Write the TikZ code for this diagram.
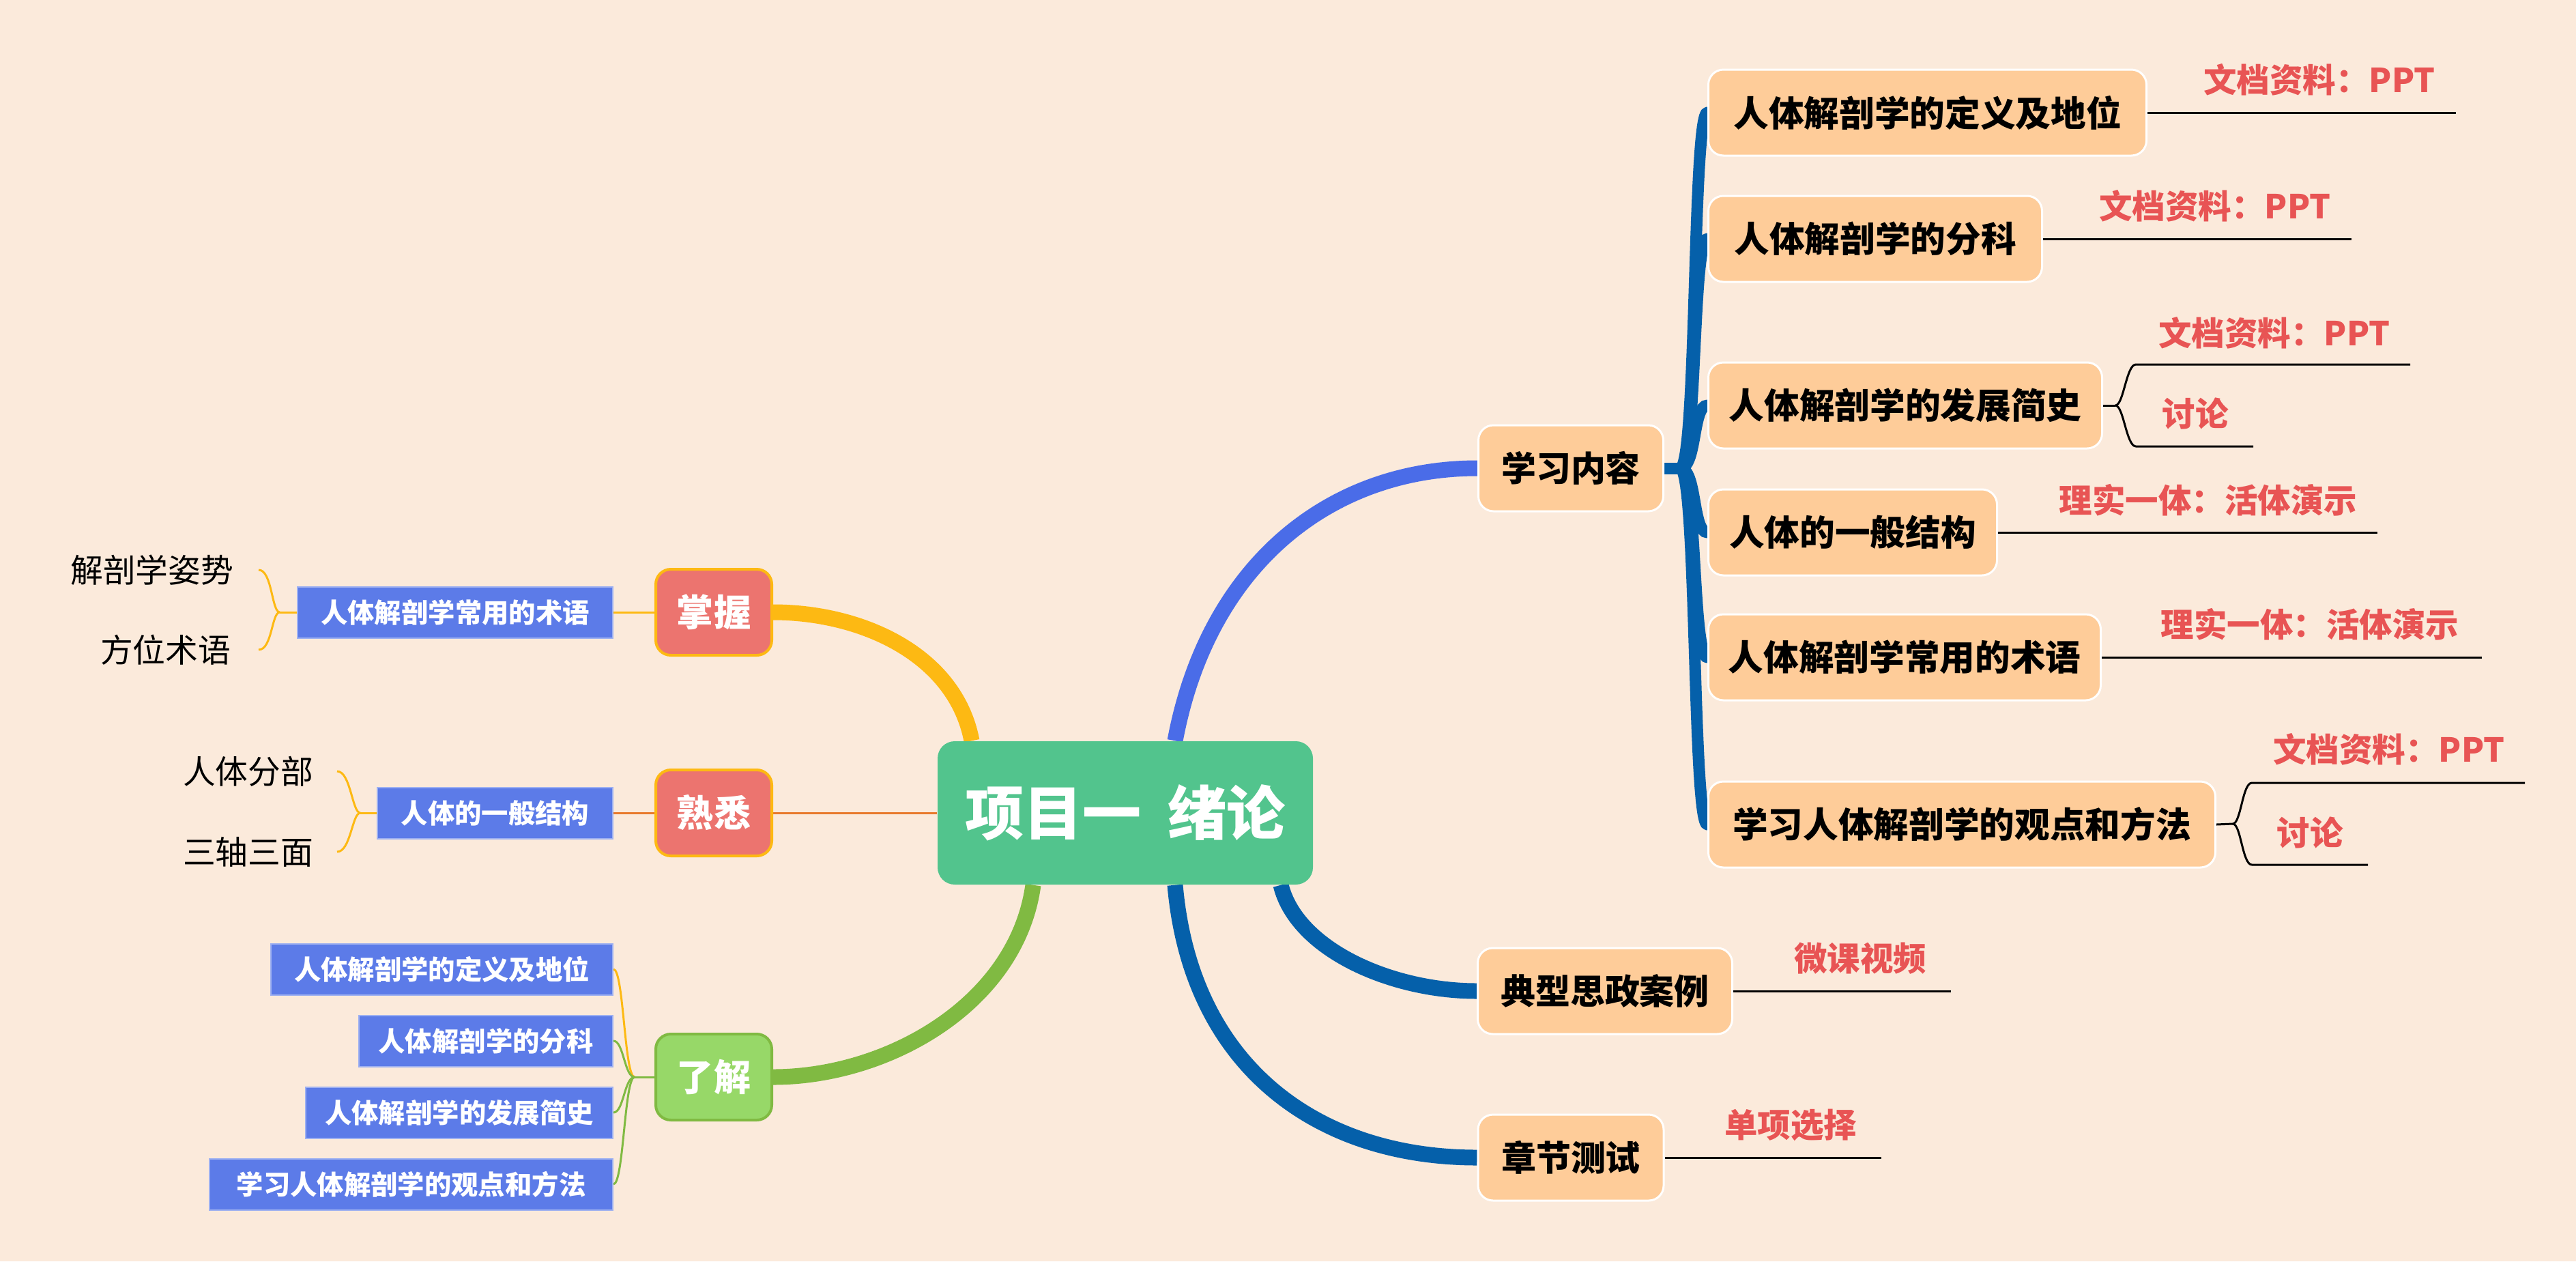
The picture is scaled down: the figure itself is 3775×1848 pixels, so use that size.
\documentclass[tikz,border=0pt]{standalone}
\usepackage{fontspec}
\setmainfont{Noto Sans CJK SC}
\usetikzlibrary{backgrounds}

\definecolor{bgpeach}{RGB}{251,234,219}
\definecolor{hubgreen}{RGB}{82,196,141}
\definecolor{topicpeach}{RGB}{254,204,153}
\definecolor{catred}{RGB}{236,116,111}
\definecolor{catgreen}{RGB}{151,216,104}
\definecolor{leafgreen}{RGB}{128,186,66}
\definecolor{mindyellow}{RGB}{253,185,19}
\definecolor{mindorange}{RGB}{232,121,43}
\definecolor{mindblue}{RGB}{74,108,232}
\definecolor{deepblue}{RGB}{5,96,170}
\definecolor{boxblue}{RGB}{92,123,232}
\definecolor{notered}{RGB}{232,84,84}

\begin{document}
\begin{tikzpicture}[x=0.1mm, y=-0.1mm]
	\tikzstyle{hub} = [rounded corners=2.5mm, fill=hubgreen, text=white, minimum width=55mm, minimum height=21mm, inner sep=0pt, font=\fontsize{24.5}{28}\selectfont\bfseries]
	\tikzstyle{topic} = [rounded corners=2.2mm, fill=topicpeach, draw=white, line width=0.3mm, minimum height=12.6mm, inner sep=0pt, font=\fontsize{14.5}{17}\selectfont\bfseries]
	\tikzstyle{subtopic} = [topic, anchor=west, font=\fontsize{14.7}{17}\selectfont\bfseries]
	\tikzstyle{grade} = [rounded corners=2.2mm, line width=0.4mm, text=white, minimum width=17mm, minimum height=12.6mm, inner sep=0pt, font=\fontsize{15.4}{18}\selectfont\bfseries]
	\tikzstyle{tag} = [fill=boxblue, draw=boxblue!60!white, line width=0.2mm, text=white, anchor=east, minimum height=7.5mm, inner sep=0pt, font=\fontsize{11.2}{14}\selectfont\bfseries]
	\tikzstyle{term} = [anchor=east, inner sep=0pt, font=\fontsize{13.6}{16}\selectfont]
	\tikzstyle{memo} = [text=notered, inner sep=0pt, font=\fontsize{13.8}{16}\selectfont\bfseries]
	\tikzstyle{trunk} = [line width=2.3mm]
	\tikzstyle{limb} = [deepblue, line width=1.7mm, line cap=round]
	\tikzstyle{twig} = [line width=0.3mm]
	\tikzstyle{uline} = [black, line width=0.3mm]

	\useasboundingbox (0,0) rectangle (3775,1848);

	% Define nodes
	\node[hub] (hub) at (1649,1191) {项目一\ \ 绪论};
	\node[topic, minimum width=27.1mm] (xxnr) at (2302,686) {学习内容};
	\node[topic, minimum width=37.3mm] (dxal) at (2352,1452) {典型思政案例};
	\node[topic, minimum width=27.2mm] (zjcs) at (2302,1696) {章节测试};

	\node[subtopic, minimum width=64.2mm] (n1) at (2502,165) {人体解剖学的定义及地位};
	\node[subtopic, minimum width=48.9mm] (n2) at (2502,350) {人体解剖学的分科};
	\node[subtopic, minimum width=57.7mm] (n3) at (2502,594) {人体解剖学的发展简史};
	\node[subtopic, minimum width=42.3mm] (n4) at (2502,780) {人体的一般结构};
	\node[subtopic, minimum width=57.5mm] (n5) at (2502,963) {人体解剖学常用的术语};
	\node[subtopic, minimum width=74.3mm] (n6) at (2502,1208) {学习人体解剖学的观点和方法};

	\node[memo] (r1) at (3399,117) {文档资料：PPT};
	\node[memo] (r2) at (3246,302) {文档资料：PPT};
	\node[memo] (r3a) at (3333,488) {文档资料：PPT};
	\node[memo] (r3b) at (3217,606) {讨论};
	\node[memo] (r4) at (3236,733) {理实一体：活体演示};
	\node[memo] (r5) at (3385,915) {理实一体：活体演示};
	\node[memo] (r6a) at (3501,1098) {文档资料：PPT};
	\node[memo] (r6b) at (3385,1220) {讨论};
	\node[memo] (r7) at (2726,1404) {微课视频};
	\node[memo] (r8) at (2624,1648) {单项选择};

	\node[grade, fill=catred, draw=mindyellow] (zw) at (1046,897) {掌握};
	\node[grade, fill=catred, draw=mindyellow] (sx) at (1046,1191) {熟悉};
	\node[grade, fill=catgreen, draw=leafgreen] (lj) at (1046,1578) {了解};

	\node[tag, minimum width=46.2mm] (bz) at (899,897) {人体解剖学常用的术语};
	\node[tag, minimum width=34.5mm] (bj) at (899,1191) {人体的一般结构};
	\node[tag, minimum width=50.1mm] (l1) at (899,1420) {人体解剖学的定义及地位};
	\node[tag, minimum width=37.2mm] (l2) at (899,1525) {人体解剖学的分科};
	\node[tag, minimum width=45.0mm] (l3) at (899,1630) {人体解剖学的发展简史};
	\node[tag, minimum width=59.1mm] (l4) at (899,1735) {学习人体解剖学的观点和方法};

	\node[term] (t1) at (343,835) {解剖学姿势};
	\node[term] (t2) at (339,952) {方位术语};
	\node[term] (t3) at (460,1130) {人体分部};
	\node[term] (t4) at (460,1248) {三轴三面};

	% Free ends
	\coordinate (jx) at (2462,686);
	\coordinate (jz) at (410,897);
	\coordinate (jj) at (528,1191);
	\coordinate (jl) at (930,1578);
	\coordinate (j3) at (3100,594);
	\coordinate (u3s) at (3130,534);
	\coordinate (u3e) at (3532,534);
	\coordinate (d3s) at (3130,654);
	\coordinate (d3e) at (3302,654);
	\coordinate (j6) at (3272,1207);
	\coordinate (u6s) at (3300,1147);
	\coordinate (u6e) at (3700,1147);
	\coordinate (d6s) at (3300,1267);
	\coordinate (d6e) at (3470,1267);
	\coordinate (e1) at (3599,165);
	\coordinate (e2) at (3446,350);
	\coordinate (e4) at (3484,780);
	\coordinate (e5) at (3637,963);
	\coordinate (e7) at (2859,1452);
	\coordinate (e8) at (2757,1696);

	% Draw edges
	\begin{scope}[on background layer]
		\fill[bgpeach] (0,0) rectangle (3775,1848);

		\draw[trunk, mindblue] ([xshift=7.3mm]hub.north) .. controls +(48,-257) and +(-217,0) .. (xxnr.west);
		\draw[trunk, deepblue] ([xshift=22.8mm]hub.south) .. controls +(23,94) and +(-126,0) .. (dxal.west);
		\draw[trunk, deepblue] ([xshift=7.3mm]hub.south) .. controls +(23,264) and +(-236,0) .. (zjcs.west);
		\draw[trunk, mindyellow] ([xshift=-22.5mm]hub.north) .. controls +(-24,-126) and +(130,0) .. (zw.east);
		\draw[trunk, leafgreen] ([xshift=-13.5mm]hub.south) .. controls +(-24,174) and +(168,0) .. (lj.east);
		\draw[twig, mindorange] (sx.east) -- (hub.west);

		% brace of the content list
		\draw[limb] (xxnr.east) -- (jx);
		\foreach \n in {n1,n2,n3,n4,n5,n6}
			\draw[limb] (jx) .. controls +(25,0) and +(-22,0) .. (\n.west);

		% left side
		\draw[twig, mindyellow] (zw.west) -- (bz.east);
		\draw[twig, mindyellow] (bz.west) -- (jz);
		\draw[twig, mindyellow] (jz) .. controls +(-12,0) and +(20,0) .. ([xshift=3.6mm]t1.east);
		\draw[twig, mindyellow] (jz) .. controls +(-12,0) and +(20,0) .. ([xshift=4mm]t2.east);

		\draw[twig, mindorange] (sx.west) -- (bj.east);
		\draw[twig, mindyellow] (bj.west) -- (jj);
		\draw[twig, mindyellow] (jj) .. controls +(-12,0) and +(20,0) .. ([xshift=3.4mm]t3.east);
		\draw[twig, mindyellow] (jj) .. controls +(-12,0) and +(20,0) .. ([xshift=3.4mm]t4.east);

		\draw[twig, leafgreen] (lj.west) -- (jl);
		\draw[twig, mindyellow] (jl) .. controls +(-15,0) and +(15,0) .. (l1.east);
		\foreach \n in {l2,l3,l4}
			\draw[twig, leafgreen] (jl) .. controls +(-15,0) and +(15,0) .. (\n.east);
	\end{scope}

	% underlines of the notes
	\draw[uline] (n1.east) -- (e1);
	\draw[uline] (n2.east) -- (e2);
	\draw[uline] (n3.east) -- (j3);
	\draw[uline] (j3) .. controls +(12,0) and +(-14,0) .. (u3s) -- (u3e);
	\draw[uline] (j3) .. controls +(12,0) and +(-14,0) .. (d3s) -- (d3e);
	\draw[uline] (n4.east) -- (e4);
	\draw[uline] (n5.east) -- (e5);
	\draw[uline] (n6.east) -- (j6);
	\draw[uline] (j6) .. controls +(12,0) and +(-14,0) .. (u6s) -- (u6e);
	\draw[uline] (j6) .. controls +(12,0) and +(-14,0) .. (d6s) -- (d6e);
	\draw[uline] (dxal.east) -- (e7);
	\draw[uline] (zjcs.east) -- (e8);
\end{tikzpicture}
\end{document}
